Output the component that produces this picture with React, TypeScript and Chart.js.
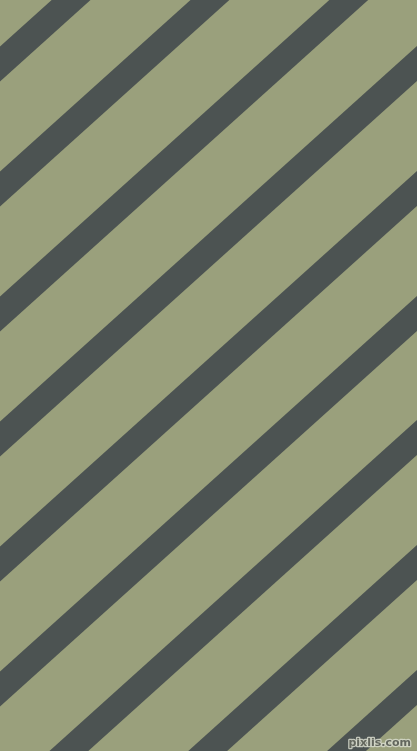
import { useEffect, useRef } from 'react';
import { Chart, registerables } from 'chart.js';

Chart.register(...registerables);

// y of each stripe's centre line where it meets the left edge (x = 0)
const stripeIntercepts = [64, 189, 314, 439, 564, 689, 813, 938, 1063];
// stripes rise to the right at this angle (degrees)
const stripeAngle = 42;
const xRange = [0, 417];
const yRange = [0, 751];
const watermark = 'pixlis.com';

const bgColor = '#9aa07c';
const stripeColor = '#4c5352';

const bgPlugin = {
  id: 'bg',
  beforeDraw(chart: Chart) {
    const { ctx, width, height } = chart;
    ctx.save();
    ctx.fillStyle = bgColor;
    ctx.fillRect(0, 0, width, height);
    ctx.restore();
  },
  afterDraw(chart: Chart) {
    const { ctx, width, height } = chart;
    ctx.save();
    ctx.font = 'bold 11px "DejaVu Sans", sans-serif';
    ctx.textAlign = 'right';
    ctx.textBaseline = 'bottom';
    ctx.lineWidth = 2.5;
    ctx.lineJoin = 'round';
    ctx.strokeStyle = 'rgba(215,218,205,0.85)';
    ctx.strokeText(watermark, width - 6, height - 2);
    ctx.fillStyle = '#62665d';
    ctx.fillText(watermark, width - 6, height - 2);
    ctx.restore();
  },
};

export default function App() {
  const canvasRef = useRef<HTMLCanvasElement>(null);

  useEffect(() => {
    if (!canvasRef.current) return;
    const slope = Math.tan((stripeAngle * Math.PI) / 180);
    const x0 = xRange[0] - 60;
    const x1 = xRange[1] + 60;

    const chart = new Chart(canvasRef.current, {
      type: 'scatter',
      data: {
        datasets: stripeIntercepts.map((c, i) => ({
          label: 'stripe ' + (i + 1),
          data: [
            { x: x0, y: c - slope * x0 },
            { x: x1, y: c - slope * x1 },
          ],
          showLine: true,
          borderColor: stripeColor,
          borderWidth: 26,
          borderCapStyle: 'butt' as const,
          pointRadius: 0,
          pointHoverRadius: 0,
        })),
      },
      options: {
        animation: false,
        responsive: true,
        maintainAspectRatio: false,
        layout: { padding: 0 },
        plugins: {
          legend: { display: false },
          tooltip: { enabled: false },
        },
        events: [],
        scales: {
          x: { type: 'linear', min: xRange[0], max: xRange[1], display: false },
          y: { type: 'linear', min: yRange[0], max: yRange[1], reverse: true, display: false },
        },
      },
      plugins: [bgPlugin],
    });

    return () => {
      chart.destroy();
    };
  }, []);

  return (
    <div style={{ position: 'fixed', left: 0, top: 0, width: '417px', height: '751px' }}>
      <canvas ref={canvasRef} />
    </div>
  );
}
